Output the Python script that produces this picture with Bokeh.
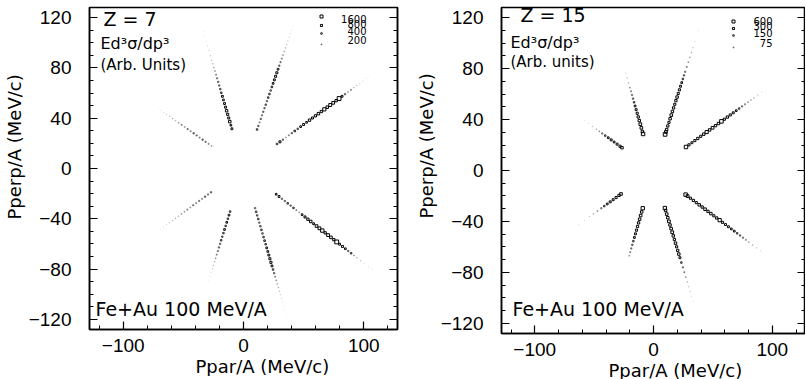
import math
from bokeh.plotting import figure
from bokeh.models import FixedTicker, LinearAxis, Label, Range1d, Title
from bokeh.layouts import row
from bokeh.embed import file_html
from bokeh.resources import INLINE
from bokeh.core.properties import value

FONT = "DejaVu Sans"
TICK_FONT = "Liberation Sans"

# ---------------- data ----------------
# Each ray: lab angle (deg), P/A along the ray (MeV/c), Ed3sigma/dp3 (arb. units)
# ----- Z = 7 -----
z7_angles = [35, 70, 107, 146, -37, -73, -108, -145]
z7_p_a35 = [34, 37, 40, 43, 46, 49, 52, 55, 58, 61, 64, 67, 70, 73, 76, 79, 82, 85, 88, 91,
            94, 97, 100, 103, 106, 109, 112, 115, 118, 121, 125, 129, 133]
z7_w_a35 = [400, 700, 300, 150, 200, 300, 450, 350, 500, 700, 500, 1000, 700, 900, 1100, 900,
            1800, 1100, 1500, 1300, 1000, 2600, 600, 300, 150, 200, 100, 80, 60, 50, 40, 30, 20]
z7_p_a70 = [33, 36, 39, 42, 45, 48, 51, 54, 57, 60, 63, 66, 69, 72, 75, 78, 81, 84, 87, 90,
            93, 96, 99, 102, 105, 108, 111, 114, 117, 120, 124, 128]
z7_w_a70 = [400, 300, 200, 300, 250, 300, 300, 350, 300, 400, 400, 350, 450, 500, 600, 700,
            700, 500, 300, 250, 200, 150, 120, 100, 80, 60, 50, 50, 40, 30, 25, 20]
z7_p_a107 = [33, 36, 39, 42, 45, 48, 51, 54, 57, 60, 63, 66, 69, 72, 75, 78, 81, 84, 87, 90,
             94, 98, 102, 106, 110, 114, 118, 122, 126]
z7_w_a107 = [600, 500, 1100, 700, 800, 1000, 700, 600, 500, 600, 400, 350, 300, 300, 250, 200,
             150, 120, 100, 80, 70, 60, 50, 40, 35, 30, 25, 20, 15]
z7_p_a146 = [32, 35, 38, 41, 44, 47, 50, 53, 56, 59, 62, 65, 68, 71, 74, 77, 80, 83, 86, 90]
z7_w_a146 = [150, 200, 250, 300, 200, 250, 300, 200, 250, 150, 200, 150, 100, 100, 80, 60,
             50, 40, 30, 20]
z7_p_am37 = [34, 37, 40, 43, 46, 49, 52, 55, 58, 61, 64, 67, 70, 73, 76, 79, 82, 85, 88, 91,
             94, 97, 100, 103, 106, 109, 112, 115, 118, 122, 126, 130, 134, 138, 142]
z7_w_am37 = [500, 600, 300, 300, 400, 300, 400, 200, 150, 500, 700, 900, 1100, 600, 1200, 1400,
             2000, 900, 1400, 1200, 900, 2600, 600, 700, 500, 300, 400, 150, 100, 80, 50, 40,
             30, 20, 15]
z7_p_am73 = [33, 36, 39, 42, 45, 48, 51, 54, 57, 60, 63, 66, 69, 72, 75, 78, 81, 84, 87, 90,
             93, 96, 99, 102, 105, 108, 111, 114, 117, 121, 125]
z7_w_am73 = [300, 400, 350, 400, 300, 350, 400, 350, 400, 450, 400, 500, 500, 600, 700, 800,
             600, 400, 300, 200, 150, 120, 100, 80, 60, 50, 40, 35, 30, 25, 20]
z7_p_am108 = [36, 39, 42, 45, 48, 51, 54, 57, 60, 63, 66, 69, 72, 75, 78, 81, 84, 87, 90, 94, 98]
z7_w_am108 = [400, 500, 400, 500, 400, 500, 400, 350, 400, 300, 300, 250, 200, 150, 100, 80,
              60, 50, 40, 30, 20]
z7_p_am145 = [33, 36, 39, 42, 45, 48, 51, 54, 57, 60, 63, 66, 69, 72, 75, 78, 81, 84, 87, 91, 95]
z7_w_am145 = [300, 250, 300, 200, 250, 200, 250, 150, 200, 150, 150, 100, 100, 80, 60, 50,
              40, 30, 25, 20, 15]
z7_legend = [1600, 800, 400, 200]

# ----- Z = 15 -----
z15_angles = [34, 71, 107, 146, -35, -72, -107, -146]
z15_p_a34 = [33, 36, 39, 42, 45, 48, 51, 54, 57, 60, 63, 66, 69, 72, 75, 78, 81, 84, 87, 90,
             93, 96, 99, 102, 106, 110]
z15_w_a34 = [800, 300, 250, 300, 350, 300, 400, 650, 400, 500, 350, 400, 850, 300, 350, 300,
             250, 200, 150, 100, 80, 60, 50, 40, 30, 20]
z15_p_a71 = [30, 32, 34, 37, 40, 43, 46, 49, 52, 55, 58, 61, 64, 67, 70, 73, 76, 79, 82, 86,
             90, 94, 98, 102, 107, 116, 126]
z15_w_a71 = [900, 500, 400, 350, 300, 400, 450, 400, 350, 300, 350, 400, 300, 300, 250, 200,
             150, 120, 100, 80, 60, 50, 40, 30, 20, 15, 10]
z15_p_a107 = [30, 32, 35, 38, 41, 44, 47, 50, 53, 56, 59, 62, 65, 68, 72, 76, 80]
z15_w_a107 = [800, 400, 450, 500, 400, 350, 300, 250, 200, 150, 120, 100, 80, 60, 40, 30, 20]
z15_p_a146 = [32, 34, 37, 40, 43, 46, 49, 52, 55, 58, 62, 66, 70]
z15_w_a146 = [400, 300, 250, 200, 250, 200, 150, 100, 60, 40, 30, 20, 15]
z15_p_am35 = [33, 35, 38, 41, 44, 47, 50, 53, 56, 59, 62, 65, 68, 71, 74, 77, 80, 83, 86, 89,
              92, 95, 98, 102, 106, 110]
z15_w_am35 = [800, 500, 300, 350, 300, 400, 350, 450, 350, 400, 300, 350, 700, 300, 250, 250,
              200, 200, 150, 120, 100, 70, 50, 40, 30, 20]
z15_p_am72 = [31, 33, 36, 39, 42, 45, 48, 51, 54, 57, 60, 63, 66, 69, 72, 76, 80, 84, 88, 92,
              96, 100, 104, 108]
z15_w_am72 = [750, 400, 450, 400, 500, 400, 450, 500, 400, 350, 400, 300, 350, 400, 250, 150,
              100, 80, 60, 40, 30, 25, 20, 15]
z15_p_am107 = [31, 34, 37, 40, 43, 46, 49, 52, 55, 58, 61, 64, 67, 70]
z15_w_am107 = [750, 400, 450, 400, 350, 350, 300, 250, 200, 150, 120, 100, 80, 60]
z15_p_am146 = [33, 35, 38, 41, 44, 47, 50, 53, 57, 61, 65, 70, 76, 82]
z15_w_am146 = [450, 350, 300, 250, 250, 200, 150, 100, 60, 40, 30, 20, 15, 10]
z15_legend = [600, 300, 150, 75]

x_ticks = [-100, 0, 100]
x_minor = [-120, -80, -60, -40, -20, 20, 40, 60, 80, 120]
y_ticks = [-120, -80, -40, 0, 40, 80, 120]
y_minor = [-120, -110, -100, -90, -80, -70, -60, -50, -40, -30, -20, -10, 0,
           10, 20, 30, 40, 50, 60, 70, 80, 90, 100, 110, 120]

X_LO, X_HI, Y_LO, Y_HI = -128, 128, -128, 128


def minus(t):
    return str(t).replace("-", "\u2212")


def build(angles, plist, wlist, k, legend_vals, cfg):
    fw, fh = cfg["fw"], cfg["fh"]
    ux = (X_HI - X_LO) / fw
    uy = (Y_HI - Y_LO) / fh

    def X(dx):
        return X_LO + dx * ux

    def Y(dy):
        return Y_HI - dy * uy

    p = figure(frame_width=fw, frame_height=fh,
               x_range=Range1d(X_LO, X_HI), y_range=Range1d(Y_LO, Y_HI),
               output_backend="svg", toolbar_location=None,
               min_border_left=cfg["mbl"], min_border_right=cfg["mbr"],
               min_border_top=cfg["mbt"], min_border_bottom=0,
               background_fill_color="white", border_fill_color="white",
               outline_line_color="black", outline_line_width=1.5)
    p.grid.visible = False

    def alpha(s):
        return min(1.0, (s / 1.7) ** 2)

    xs, ys, ss, al = [], [], [], []
    for ang, pp, ww in zip(angles, plist, wlist):
        a = math.radians(ang)
        for r, w in zip(pp, ww):
            s = k * math.sqrt(w)
            xs.append(r * math.cos(a))
            ys.append(r * math.sin(a))
            ss.append(s)
            al.append(alpha(s))
    p.scatter(xs, ys, size=ss, marker="square", fill_color=None,
              line_color="black", line_alpha=al, line_width=1.0)

    # legend of box sizes
    lsz = [k * math.sqrt(v) for v in legend_vals]
    p.scatter([X(232)] * len(legend_vals), [Y(d) for d in cfg["leg_marker_dy"]],
              size=lsz, marker="square", fill_color=None, line_color="black",
              line_alpha=[alpha(s) for s in lsz], line_width=1.0)
    p.text([X(cfg["leg_text_dx"])] * len(legend_vals), [Y(d) for d in cfg["leg_text_dy"]],
           text=[str(v) for v in legend_vals], text_align="right", text_baseline="middle",
           text_font=value(FONT), text_font_size="10px", text_color="black")

    # axes
    p.xaxis.ticker = FixedTicker(ticks=x_ticks, minor_ticks=x_minor)
    p.yaxis.ticker = FixedTicker(ticks=y_ticks, minor_ticks=y_minor)
    p.xaxis.major_label_overrides = {t: minus(t) for t in x_ticks}
    p.yaxis.major_label_overrides = {t: minus(t) for t in y_ticks}
    p.xaxis.major_label_standoff = 9
    p.yaxis.major_label_standoff = cfg["ystand"]
    for ax in (p.xaxis[0], p.yaxis[0]):
        ax.major_tick_in = 8
        ax.major_tick_out = 0
        ax.minor_tick_in = 4
        ax.minor_tick_out = 0
        ax.axis_line_width = 1.5
        ax.axis_line_color = "black"
        ax.major_tick_line_color = "black"
        ax.minor_tick_line_color = "black"
        ax.major_tick_line_width = 1.2
        ax.major_label_text_font = TICK_FONT
        ax.major_label_text_font_size = "19px"
        ax.major_label_text_color = "black"

    ra = LinearAxis(ticker=FixedTicker(ticks=y_ticks, minor_ticks=y_minor),
                    major_label_overrides={t: "" for t in y_ticks},
                    major_label_text_font_size="0px", major_label_standoff=0,
                    major_tick_in=8, major_tick_out=0, minor_tick_in=4, minor_tick_out=0,
                    axis_line_width=1.5, axis_line_color="black",
                    major_tick_line_color="black", minor_tick_line_color="black")
    p.add_layout(ra, "right")

    # axis titles (placed toward the upper end of each axis, as in the original)
    p.add_layout(Title(text="Ppar/A (MeV/c)", align="left", offset=cfg["xl_off"],
                       standoff=0, vertical_align="middle", text_font=FONT,
                       text_font_size="18px", text_font_style="normal",
                       text_color="black"), "below")
    p.add_layout(Title(text="Pperp/A (MeV/c)", align="left", offset=cfg["yl_off"],
                       standoff=0, vertical_align="middle", text_font=FONT,
                       text_font_size="18px", text_font_style="normal",
                       text_color="black"), "left")

    # texts inside the frame
    def lab(x, y, text, size):
        p.add_layout(Label(x=x, y=y, text=text, text_font=FONT, text_font_size=size,
                           text_align="left", text_baseline="middle", text_color="black"))

    lab(X(cfg["z_dx"]), Y(cfg["z_dy"]), cfg["z_text"], "19px")
    lab(X(cfg["e_dx"]), Y(cfg["e_dy"]), "Ed\u00b3\u03c3/dp\u00b3", "16px")
    lab(X(cfg["e_dx"]), Y(cfg["u_dy"]), cfg["u_text"], "15px")
    lab(X(cfg["f_dx"]), Y_LO + cfg["f_up"] * uy, "Fe+Au 100 MeV/A", "19px")
    return p


cfg7 = dict(fw=308, fh=322, mbl=89, mbr=3, mbt=6, ystand=18,
            leg_marker_dy=[9, 18, 26, 37], leg_text_dx=277, leg_text_dy=[11, 16, 23, 32],
            z_dx=14, z_dy=11, z_text="Z = 7", e_dx=11, e_dy=36, u_dy=57, u_text="(Arb. Units)",
            f_dx=6, f_up=21, xl_off=106, yl_off=110)
cfg15 = dict(fw=304, fh=326, mbl=101, mbr=0, mbt=7, ystand=18,
             leg_marker_dy=[14, 21, 28, 40], leg_text_dx=271, leg_text_dy=[13, 18, 25, 35],
             z_dx=19, z_dy=7, z_text="Z = 15", e_dx=9, e_dy=35, u_dy=54, u_text="(Arb. units)",
             f_dx=11, f_up=25, xl_off=107, yl_off=115)

p7 = build(z7_angles,
           [z7_p_a35, z7_p_a70, z7_p_a107, z7_p_a146, z7_p_am37, z7_p_am73, z7_p_am108, z7_p_am145],
           [z7_w_a35, z7_w_a70, z7_w_a107, z7_w_a146, z7_w_am37, z7_w_am73, z7_w_am108, z7_w_am145],
           0.075, z7_legend, cfg7)
p15 = build(z15_angles,
            [z15_p_a34, z15_p_a71, z15_p_a107, z15_p_a146, z15_p_am35, z15_p_am72, z15_p_am107, z15_p_am146],
            [z15_w_a34, z15_w_a71, z15_w_a107, z15_w_a146, z15_w_am35, z15_w_am72, z15_w_am107, z15_w_am146],
            0.122, z15_legend, cfg15)

layout = row(p7, p15)
open("out.html", "w").write(file_html(layout, INLINE))
